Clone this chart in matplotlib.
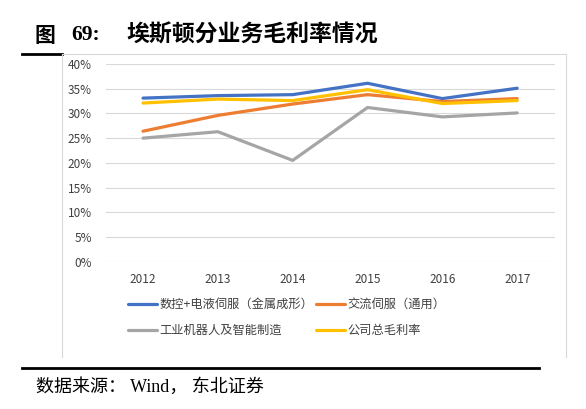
import matplotlib.pyplot as plt
from matplotlib.lines import Line2D

# 数据
years = ['2012', '2013', '2014', '2015', '2016', '2017']
cnc = [33.1, 33.6, 33.8, 36.1, 33.0, 35.1]
ac_servo = [26.4, 29.6, 31.9, 33.8, 32.4, 33.0]
robot = [25.0, 26.3, 20.5, 31.2, 29.3, 30.1]
total = [32.1, 32.9, 32.6, 34.8, 32.0, 32.6]
names = ['数控+电液伺服（金属成形）', '交流伺服（通用）', '工业机器人及智能制造', '公司总毛利率']
colors = ['#4472C4', '#ED7D31', '#A5A5A5', '#FFC000']
yticks = [0, 5, 10, 15, 20, 25, 30, 35, 40]

plt.rcParams['font.family'] = ['Noto Sans CJK SC', 'DejaVu Sans']

W, H = 586, 409
fig = plt.figure(figsize=(W / 100, H / 100), dpi=100)

def fx(x):
    return x / W

def fy(y):
    return 1 - y / H

# 标题
fig.text(fx(35), fy(35), '图', fontsize=15, fontweight='bold', va='center', ha='left')
fig.text(fx(71), fy(35), '69:', fontsize=15.5, fontweight='bold', va='center', ha='left',
         family=['Liberation Serif'])
fig.text(fx(126), fy(35), '埃斯顿分业务毛利率情况', fontsize=16.5, fontweight='bold',
         va='center', ha='left')
fig.add_artist(Line2D([fx(22), fx(62)], [fy(54), fy(54)], color='black', lw=2))

# 图表边框
fig.add_artist(Line2D([fx(62), fx(566), fx(566)], [fy(54), fy(54), fy(357)], color='#D9D9D9', lw=0.8))
fig.add_artist(Line2D([fx(62), fx(62)], [fy(54), fy(357)], color='#D9D9D9', lw=0.8))

ax = fig.add_axes([fx(105.6), fy(261.7), fx(449), (261.7 - 64) / H])
x = range(len(years))
series = [cnc, ac_servo, robot, total]
lines = []
for vals, c, n in zip(series, colors, names):
    l, = ax.plot(x, vals, color=c, lw=2.3, label=n, solid_capstyle='round')
    lines.append(l)

ax.set_xlim(-0.5, len(years) - 0.5)
ax.set_ylim(0, 40)
ax.set_yticks(yticks)
ax.set_yticklabels([f'{v}%' for v in yticks])
ax.set_xticks(list(x))
ax.set_xticklabels(years)
ax.grid(axis='y', color='#D9D9D9', lw=0.8)
ax.set_axisbelow(True)
for s in ax.spines.values():
    s.set_visible(False)
ax.tick_params(length=0, labelsize=8.5, colors='#404040', pad=8)
ax.tick_params(axis='y', pad=10)

# 图例按行排列
order = [0, 2, 1, 3]
fig.legend([lines[i] for i in order], [names[i] for i in order],
           loc='upper left', bbox_to_anchor=(fx(117), fy(287)), ncol=2, frameon=False,
           fontsize=8.8, handlelength=2.4, handletextpad=0.15, columnspacing=0.25,
           labelspacing=1.05, labelcolor='#404040')

# 来源
fig.add_artist(Line2D([fx(22), fx(539)], [fy(367.5), fy(367.5)], color='black', lw=2))
fig.text(fx(36), fy(387), '数据来源： Wind， 东北证券', fontsize=13, va='center', ha='left',
         family=['Liberation Serif', 'Noto Sans CJK SC'])

fig.savefig('out.png', dpi=100)
